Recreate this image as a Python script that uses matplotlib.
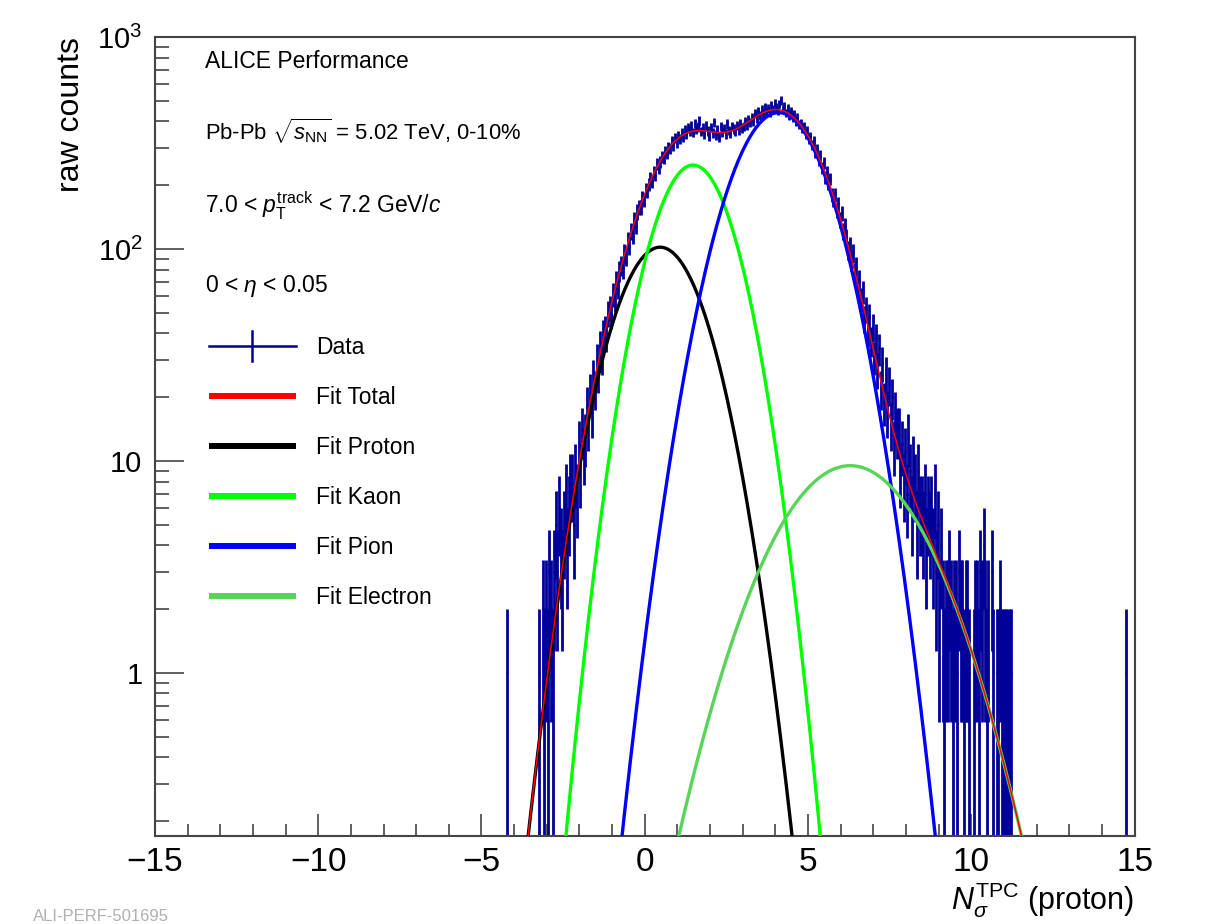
import numpy as np
import matplotlib
matplotlib.use('Agg')
import matplotlib.pyplot as plt
from matplotlib.ticker import FixedLocator, FixedFormatter, MultipleLocator, LogLocator, NullFormatter

plt.rcParams['font.family'] = ['Liberation Sans', 'DejaVu Sans']
plt.rcParams['mathtext.fontset'] = 'custom'
plt.rcParams['mathtext.rm'] = 'Liberation Sans'
plt.rcParams['mathtext.it'] = 'Liberation Sans:italic'
plt.rcParams['mathtext.bf'] = 'Liberation Sans:bold'

# histogram: N_sigma(proton), bin width 0.05, first bin centre -4.225
bin_width = 0.05
first_bin = -4.225
counts = [
    1, 0, 0, 0, 0, 0, 0, 0, 0, 0, 0, 0, 0, 0, 0, 0, 0, 0, 0, 0,
    1, 0, 2, 1, 2, 1, 3, 2, 1, 3, 5, 3, 6, 4, 3, 5, 7, 4, 6, 8,
    8, 5, 9, 7, 12, 9, 14, 11, 13, 18, 15, 21, 17, 25, 22, 30, 26, 35, 31, 40,
    42, 39, 50, 53, 49, 61, 58, 70, 66, 79, 84, 81, 96, 93, 110, 104, 121, 116, 137, 129,
    150, 158, 157, 175, 171, 190, 188, 201, 216, 209, 231, 224, 253, 241, 258, 272, 268, 290, 282, 301,
    298, 322, 309, 335, 318, 341, 330, 352, 339, 366, 348, 372, 360, 381, 355, 392, 368, 377, 402, 359,
    372, 349, 384, 361, 340, 375, 352, 396, 347, 366, 338, 380, 358, 371, 349, 389, 363, 352, 378, 369,
    359, 384, 366, 391, 372, 378, 401, 383, 410, 395, 418, 402, 437, 415, 446, 428, 459, 437, 466, 444,
    462, 441, 478, 455, 490, 467, 449, 484, 503, 458, 471, 439, 462, 428, 447, 419, 433, 401, 417, 386,
    392, 371, 380, 349, 361, 331, 339, 310, 322, 286, 297, 263, 276, 241, 255, 218, 231, 204, 214, 181,
    171, 181, 152, 163, 137, 148, 121, 129, 114, 99, 104, 88, 96, 77, 83, 66, 71, 58, 63, 47,
    52, 41, 48, 37, 43, 31, 38, 27, 34, 22, 29, 19, 26, 17, 23, 15, 20, 12, 17, 14,
    14, 9, 12, 8, 11, 7, 13, 9, 6, 10, 8, 5, 9, 6, 6, 5, 7, 4, 6, 5,
    6, 4, 7, 3, 5, 2, 4, 2, 1, 2, 2, 3, 2, 1, 2, 2, 1, 3, 2, 2,
    1, 2, 2, 1, 0, 0, 1, 2, 2, 1, 3, 2, 4, 2, 1, 2, 0, 3, 1, 0,
    1, 1, 2, 1, 1, 1, 1, 1, 1, 1,
]
outlier_x = [14.725]
outlier_counts = [1]

# gaussian fit components
fit_labels = ['Fit Proton', 'Fit Kaon', 'Fit Pion', 'Fit Electron']
fit_amp = [102.0, 249.0, 440.0, 9.5]
fit_mean = [0.47, 1.48, 4.10, 6.29]
fit_sigma = [1.13, 1.02, 1.21, 1.85]
fit_colors = ['black', '#00ff00', '#0000ff', '#58d458']

data_color = '#000099'
axis_color = '#444444'

x = first_bin + bin_width * np.arange(len(counts))
x = np.concatenate([x, outlier_x])
n = np.array(counts + outlier_counts, dtype=float)
m = n > 0
err = np.sqrt(n)

fig = plt.figure(figsize=(12.2, 9.24), dpi=100)
ax = fig.add_axes([0.127, 0.0952, 0.803, 0.8647])

ax.vlines(x[m], np.maximum(n - err, 1e-3)[m], (n + err)[m], color=data_color, lw=2.0, zorder=2)
ax.hlines(n[m], x[m] - bin_width / 2, x[m] + bin_width / 2, color=data_color, lw=2.0, zorder=2)

xs = np.linspace(-15, 15, 3001)
total = np.zeros_like(xs)
for A, mu, s, c in zip(fit_amp, fit_mean, fit_sigma, fit_colors):
    g = A * np.exp(-0.5 * ((xs - mu) / s) ** 2)
    total += g
    ax.plot(xs, g, color=c, lw=2.4, zorder=3)
ax.plot(xs, total, color='red', lw=1.1, zorder=4)

ax.set_yscale('log')
ax.set_xlim(-15, 15)
ax.set_ylim(0.17, 1000)

ax.xaxis.set_major_locator(MultipleLocator(5))
ax.xaxis.set_minor_locator(MultipleLocator(1))
ax.yaxis.set_major_locator(FixedLocator([1, 10, 100, 1000]))
ax.yaxis.set_major_formatter(FixedFormatter(['1', '10', '$10^{2}$', '$10^{3}$']))
ax.yaxis.set_minor_locator(LogLocator(base=10, subs=np.arange(2, 10)))
ax.yaxis.set_minor_formatter(NullFormatter())

ax.tick_params(axis='x', which='major', direction='in', length=16, width=1.2,
               color=axis_color, labelsize=24, pad=8, top=False)
ax.tick_params(axis='x', which='minor', direction='in', length=8.5, width=1.2,
               color=axis_color, top=False)
ax.tick_params(axis='y', which='major', direction='in', length=21, width=1.2,
               color=axis_color, labelsize=21, pad=9, right=False)
ax.tick_params(axis='y', which='minor', direction='in', length=10, width=1.2,
               color=axis_color, right=False)
for sp in ax.spines.values():
    sp.set_color(axis_color)
    sp.set_linewidth(1.5)

ax.set_ylabel('raw counts', fontsize=23, loc='top')
ax.yaxis.set_label_coords(-0.0704, 1.0)
ax.set_xlabel(r'$N_{\sigma}^{\rm TPC}$ (proton)', fontsize=22, loc='right')
ax.xaxis.set_label_coords(1.0, -0.055)

tx = 0.051
fs = 16.5
ax.text(tx, 0.9608, 'ALICE Performance', transform=ax.transAxes, fontsize=fs, va='baseline')
ax.text(tx, 0.8711, r'Pb-Pb $\sqrt{s_{\rm NN}}$ = 5.02 TeV, 0-10%', transform=ax.transAxes,
        fontsize=15.8, va='baseline')
ax.text(tx, 0.7793, r'7.0 < $p_{\rm T}^{\rm track}$ < 7.2 GeV/$c$', transform=ax.transAxes,
        fontsize=fs, va='baseline')
ax.text(tx, 0.6812, r'0 < $\eta$ < 0.05', transform=ax.transAxes, fontsize=fs, va='baseline')

# legend drawn by hand in axes coordinates
leg_x0, leg_x1, leg_tx = 0.0551, 0.1439, 0.1643
leg_y = [0.6133, 0.5507, 0.4881, 0.4255, 0.3630, 0.3004]
leg_labels = ['Data', 'Fit Total'] + fit_labels
leg_colors = [data_color, 'red'] + fit_colors
for i, (lab, c, y) in enumerate(zip(leg_labels, leg_colors, leg_y)):
    if i == 0:
        ax.plot([leg_x0, leg_x1], [y, y], color=c, lw=1.8, transform=ax.transAxes)
        xm = (leg_x0 + leg_x1) / 2
        ax.plot([xm, xm], [y - 0.0188, y + 0.0188], color=c, lw=1.8, transform=ax.transAxes)
    else:
        ax.plot([leg_x0, leg_x1], [y, y], color=c, lw=4.3, transform=ax.transAxes,
                solid_capstyle='butt')
    ax.text(leg_tx, y - 0.0105, lab, transform=ax.transAxes, fontsize=16.5, va='baseline')

fig.text(0.027, 0.016, 'ALI-PERF-501695', fontsize=12, color='#b0b0b0', va='top')

fig.savefig('out.png', dpi=100)
